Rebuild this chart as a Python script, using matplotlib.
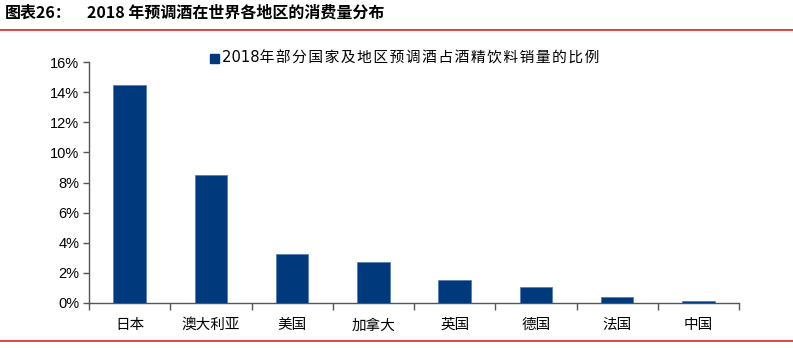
import matplotlib
matplotlib.use("Agg")
import matplotlib.pyplot as plt
from matplotlib.lines import Line2D
from matplotlib.patches import Rectangle

plt.rcParams['font.family'] = ['Noto Sans CJK SC', 'DejaVu Sans']

categories = ["日本", "澳大利亚", "美国", "加拿大", "英国", "德国", "法国", "中国"]
share = [14.45, 8.5, 3.25, 2.7, 1.52, 1.03, 0.37, 0.14]
y_ticks = [0, 2, 4, 6, 8, 10, 12, 14, 16]
y_tick_labels = [f"{v}%" for v in y_ticks]
series_name = "2018年部分国家及地区预调酒占酒精饮料销量的比例"
title_prefix = "图表26："
title_text = "2018 年预调酒在世界各地区的消费量分布"

bar_color = "#003A7C"
red = "#D8261E"
axis_color = "#555555"

fig = plt.figure(figsize=(7.93, 3.48), dpi=100)
ax = fig.add_axes([89 / 793, 45 / 348, 650 / 793, 241 / 348])

x = list(range(len(categories)))
ax.bar(x, share, width=0.4, color=bar_color, edgecolor="#4F78B0", linewidth=0.5,
       label=series_name, zorder=3)

ax.set_xlim(-0.5, len(categories) - 0.5)
ax.set_ylim(0, 16)
ax.set_yticks(y_ticks)
ax.set_yticklabels(y_tick_labels, family="Liberation Sans", fontsize=10.5)
ax.set_xticks(x)
ax.set_xticklabels(categories, fontsize=10.5)
ax.set_xticks([i - 0.5 for i in range(len(categories) + 1)], minor=True)
ax.tick_params(axis="x", which="major", length=0, pad=11)
ax.tick_params(axis="x", which="minor", length=5, width=1, color=axis_color, direction="out")
ax.tick_params(axis="y", length=4, width=1, color=axis_color, pad=3)

for side in ("top", "right"):
    ax.spines[side].set_visible(False)
for side in ("left", "bottom"):
    ax.spines[side].set_color(axis_color)
    ax.spines[side].set_linewidth(1)

# legend: small square swatch with a letter-spaced label
label_spaced = "\u200a".join(series_name[4:])
fig.patches.append(Rectangle((210 / 793, 1 - 63 / 348), 9 / 793, 9 / 348,
                             transform=fig.transFigure, color=bar_color))
fig.text(222 / 793, 1 - 58.5 / 348, "2018" + label_spaced, fontsize=10.6,
         va="center", ha="left", family=["DejaVu Sans", "Noto Sans CJK SC"])

# header with red rules
fig.text(5 / 793, 1 - 13 / 348, title_prefix, fontsize=11.5, fontweight="bold",
         va="center", ha="left")
fig.text(87 / 793, 1 - 13 / 348, title_text, fontsize=11.5, fontweight="bold",
         va="center", ha="left")
fig.add_artist(Line2D([0, 1], [1 - 29.5 / 348, 1 - 29.5 / 348], transform=fig.transFigure,
                      color=red, linewidth=1.2))
fig.add_artist(Line2D([0, 1], [1 - 340.5 / 348, 1 - 340.5 / 348], transform=fig.transFigure,
                      color=red, linewidth=1.2))

fig.savefig("out.png", dpi=100)
